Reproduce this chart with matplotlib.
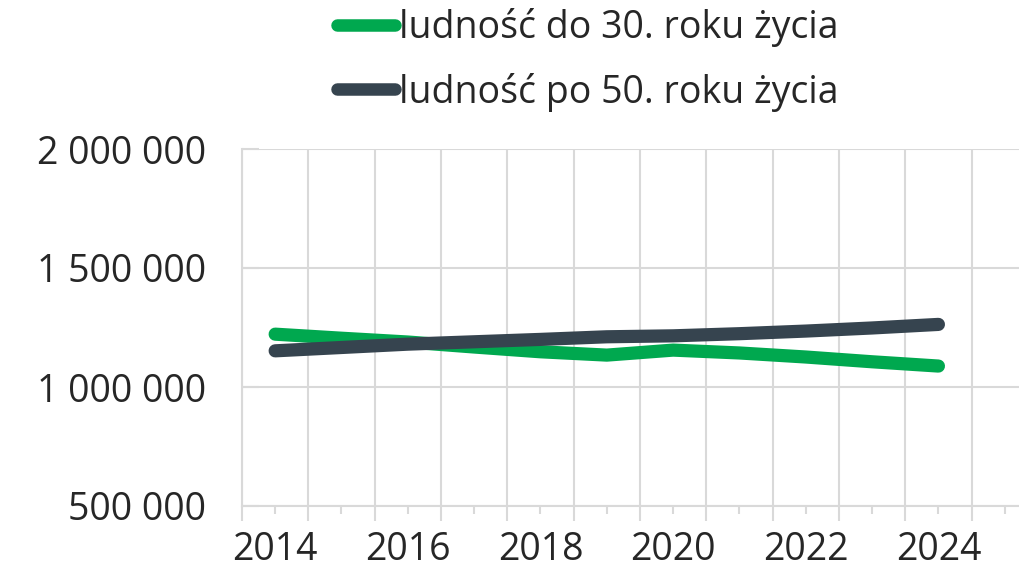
import numpy as np
import matplotlib.pyplot as plt
from matplotlib.ticker import FixedLocator, FuncFormatter

plt.rcParams['font.family'] = ['Open Sans', 'DejaVu Sans']

years = [2014, 2015, 2016, 2017, 2018, 2019, 2020, 2021, 2022, 2023, 2024]
under_30 = [1222000, 1205000, 1189000, 1168000, 1148000, 1134000, 1155000, 1143000, 1126000, 1106000, 1088000]
over_50 = [1152000, 1166000, 1180000, 1190000, 1200000, 1211000, 1215000, 1224000, 1235000, 1248000, 1263000]
label_under = "ludność do 30. roku życia"
label_over = "ludność po 50. roku życia"

GREEN = '#00a84f'
DARK = '#36444f'
GRID = '#d9d9d9'
TEXT = '#262626'
FS = 27

fig = plt.figure(figsize=(10.2, 5.7), dpi=100)
ax = fig.add_axes([242 / 1020, 64 / 570, 778 / 1020, 357 / 570])

ax.plot(years, under_30, color=GREEN, lw=9.5, solid_capstyle='round', label=label_under, zorder=3)
ax.plot(years, over_50, color=DARK, lw=9.5, solid_capstyle='round', label=label_over, zorder=4)

ax.set_xlim(2013.5, 2025.23)
ax.set_ylim(500000, 2000000)

# gridlines at half-years, year labels on the in-between ticks
ax.xaxis.set_major_locator(FixedLocator([y + 0.5 for y in range(2013, 2026)]))
ax.xaxis.set_minor_locator(FixedLocator(list(range(2014, 2026))))
ax.xaxis.set_major_formatter(FuncFormatter(lambda x, pos: ""))
ax.xaxis.set_minor_formatter(FuncFormatter(lambda x, pos: f"{int(round(x))}" if int(round(x)) % 2 == 0 and x < 2025 else ""))
ax.tick_params(axis='x', which='major', length=11, width=1.5, color=GRID)
ax.tick_params(axis='x', which='minor', length=6, width=1.5, color=GRID, labelsize=FS,
               labelcolor=TEXT, pad=12)

ax.yaxis.set_major_locator(FixedLocator([500000, 1000000, 1500000, 2000000]))
ax.yaxis.set_major_formatter(FuncFormatter(lambda v, pos: f"{int(v):,}".replace(",", " ")))
ax.tick_params(axis='y', direction='in', length=12, width=1.5, color=GRID, labelsize=FS,
               labelcolor=TEXT, pad=26)

ax.grid(True, which='major', color=GRID, lw=1.5)
for s in ['top', 'right']:
    ax.spines[s].set_visible(False)
ax.spines['left'].set_color(GRID)
ax.spines['left'].set_linewidth(1.5)
ax.spines['bottom'].set_color(GRID)
ax.spines['bottom'].set_linewidth(1.5)

leg = fig.legend(loc='upper left', bbox_to_anchor=(303 / 1020, 1.045), frameon=False, fontsize=FS,
                 handlelength=1.55, handletextpad=0.12, labelspacing=0.68, labelcolor=TEXT)
for h in leg.get_lines():
    h.set_linewidth(9)

fig.savefig('out.png', dpi=100)
